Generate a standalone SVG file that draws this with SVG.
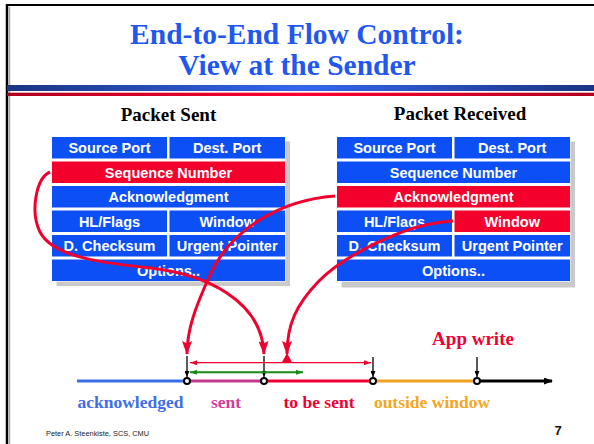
<svg xmlns="http://www.w3.org/2000/svg" width="594" height="444" viewBox="0 0 594 444">
  <style>
    .title { font-family: "Liberation Serif", "Times New Roman", serif; font-weight: bold; font-size: 29.5px; fill: #1f57f0; text-anchor: middle; }
    .head { font-family: "Liberation Serif", "Times New Roman", serif; font-weight: bold; font-size: 19px; fill: #000; text-anchor: middle; }
    .cell { fill: #0c4ff4; }
    .hot { fill: #f4002c; }
    .ct { font-family: "Liberation Sans", Arial, sans-serif; font-weight: bold; font-size: 14.5px; fill: #fff; text-anchor: middle; }
    .shadow { fill: #c9c9c9; }
    .curve { fill: none; stroke: #f0002e; stroke-width: 3; marker-end: url(#redHead); }
    .tick { stroke: #222; stroke-width: 1.5; marker-end: url(#tickHead); }
    .dot { fill: #fff; stroke: #000; stroke-width: 2; }
    .seg { stroke-width: 3; fill: none; }
    .lbl { font-family: "Liberation Serif", "Times New Roman", serif; font-weight: bold; font-size: 17.5px; text-anchor: middle; }
  </style>
  <defs>
    <linearGradient id="blueBar" x1="0" y1="0" x2="1" y2="0">
      <stop offset="0" stop-color="#1a3482"/>
      <stop offset="0.5" stop-color="#3466ee"/>
      <stop offset="1" stop-color="#1a3482"/>
    </linearGradient>
    <linearGradient id="redBar" x1="0" y1="0" x2="1" y2="0">
      <stop offset="0" stop-color="#b0001e"/>
      <stop offset="0.5" stop-color="#ff0030"/>
      <stop offset="1" stop-color="#b0001e"/>
    </linearGradient>
    <marker id="redHead" viewBox="0 0 14 10" markerUnits="userSpaceOnUse" markerWidth="14" markerHeight="10" refX="13" refY="5" orient="auto">
      <path d="M0,0 L14,5 L0,10 L2.5,5 z" fill="#f0002e"/>
    </marker>
    <marker id="tickHead" viewBox="0 0 6 5" markerUnits="userSpaceOnUse" markerWidth="6" markerHeight="5" refX="6" refY="2.5" orient="auto">
      <path d="M0,0 L6,2.5 L0,5 z" fill="#000"/>
    </marker>
    <marker id="thinRed" viewBox="0 0 7 5" markerUnits="userSpaceOnUse" markerWidth="7" markerHeight="5" refX="7" refY="2.5" orient="auto-start-reverse">
      <path d="M0,0 L7,2.5 L0,5 z" fill="#f0002e"/>
    </marker>
    <marker id="thinGreen" viewBox="0 0 7 5" markerUnits="userSpaceOnUse" markerWidth="7" markerHeight="5" refX="7" refY="2.5" orient="auto-start-reverse">
      <path d="M0,0 L7,2.5 L0,5 z" fill="#168a16"/>
    </marker>
    <marker id="axisHead" viewBox="0 0 9 7" markerUnits="userSpaceOnUse" markerWidth="9" markerHeight="7" refX="8" refY="3.5" orient="auto">
      <path d="M0,0 L9,3.5 L0,7 z" fill="#000"/>
    </marker>
  </defs>

  <rect width="594" height="444" fill="#fff"/>

  <!-- slide frame and header rules -->
  <g id="frame">
    <line x1="7" y1="4" x2="7" y2="444" stroke="#000" stroke-width="2.5"/>
    <line x1="9.5" y1="7" x2="9.5" y2="444" stroke="#a8a8a8" stroke-width="1.5"/>
    <line x1="6" y1="5" x2="594" y2="5" stroke="#000" stroke-width="2"/>
    <rect x="7" y="85" width="587" height="6" fill="url(#blueBar)"/>
    <rect x="7" y="92.7" width="587" height="3.3" fill="url(#redBar)"/>
  </g>

  <g id="title">
    <text class="title" x="297" y="44">End-to-End Flow Control:</text>
    <text class="title" x="297" y="75">View at the Sender</text>
  </g>

  <!-- TCP header of the outgoing packet -->
  <g id="packet-sent">
    <text class="head" x="168.5" y="121">Packet Sent</text>
    <rect class="shadow" x="56.5" y="141.5" width="233.5" height="144.5"/>
    <rect x="51.5" y="136.5" width="234" height="145" fill="#fff"/>
    <rect class="cell" x="52" y="137" width="115" height="21.5"/>
    <rect class="cell" x="169.5" y="137" width="115.5" height="21.5"/>
    <rect class="hot" x="52" y="161.5" width="233" height="21.5"/>
    <rect class="cell" x="52" y="186" width="233" height="21.5"/>
    <rect class="cell" x="52" y="210.5" width="115" height="21.5"/>
    <rect class="cell" x="169.5" y="210.5" width="115.5" height="21.5"/>
    <rect class="cell" x="52" y="235" width="115" height="21.5"/>
    <rect class="cell" x="169.5" y="235" width="115.5" height="21.5"/>
    <rect class="cell" x="52" y="259.5" width="233" height="21.5"/>
    <text class="ct" x="109.5" y="153">Source Port</text>
    <text class="ct" x="227.2" y="153">Dest. Port</text>
    <text class="ct" x="168.5" y="177.5">Sequence Number</text>
    <text class="ct" x="168.5" y="202">Acknowledgment</text>
    <text class="ct" x="109.5" y="226.5">HL/Flags</text>
    <text class="ct" x="227.2" y="226.5">Window</text>
    <text class="ct" x="109.5" y="251">D. Checksum</text>
    <text class="ct" x="227.2" y="251">Urgent Pointer</text>
    <text class="ct" x="168.5" y="275.5">Options..</text>
  </g>

  <!-- TCP header of the incoming packet -->
  <g id="packet-received">
    <text class="head" x="460" y="120">Packet Received</text>
    <rect class="shadow" x="341.5" y="141.5" width="233.5" height="146"/>
    <rect x="336.5" y="136.5" width="234" height="145" fill="#fff"/>
    <rect class="cell" x="337" y="137" width="115" height="21.5"/>
    <rect class="cell" x="454.5" y="137" width="115.5" height="21.5"/>
    <rect class="cell" x="337" y="161.5" width="233" height="21.5"/>
    <rect class="hot" x="337" y="186" width="233" height="21.5"/>
    <rect class="cell" x="337" y="210.5" width="115" height="21.5"/>
    <rect class="hot" x="454.5" y="210.5" width="115.5" height="21.5"/>
    <rect class="cell" x="337" y="235" width="115" height="21.5"/>
    <rect class="cell" x="454.5" y="235" width="115.5" height="21.5"/>
    <rect class="cell" x="337" y="259.5" width="233" height="21.5"/>
    <text class="ct" x="394.5" y="153">Source Port</text>
    <text class="ct" x="512.2" y="153">Dest. Port</text>
    <text class="ct" x="453.5" y="177.5">Sequence Number</text>
    <text class="ct" x="453.5" y="202">Acknowledgment</text>
    <text class="ct" x="394.5" y="226.5">HL/Flags</text>
    <text class="ct" x="512.2" y="226.5">Window</text>
    <text class="ct" x="394.5" y="251">D. Checksum</text>
    <text class="ct" x="512.2" y="251">Urgent Pointer</text>
    <text class="ct" x="453.5" y="275.5">Options..</text>
  </g>

  <!-- sequence-space timeline -->
  <g id="timeline">
    <line class="seg" x1="77" y1="381" x2="187" y2="381" stroke="#3a6fe6"/>
    <line class="seg" x1="187" y1="381" x2="264" y2="381" stroke="#c43a8e"/>
    <line class="seg" x1="264" y1="381" x2="373" y2="381" stroke="#ec0034"/>
    <line class="seg" x1="373" y1="381" x2="477" y2="381" stroke="#f0a020"/>
    <line class="seg" x1="477" y1="381" x2="552" y2="381" stroke="#000" marker-end="url(#axisHead)"/>
    <circle class="dot" cx="187" cy="381" r="3"/>
    <circle class="dot" cx="264" cy="381" r="3"/>
    <circle class="dot" cx="373" cy="381" r="3"/>
    <circle class="dot" cx="477" cy="381" r="3"/>
    <text class="lbl" x="130.5" y="408" fill="#3d6fe8">acknowledged</text>
    <text class="lbl" x="226" y="408" fill="#d0409a">sent</text>
    <text class="lbl" x="319" y="408" fill="#ee0033">to be sent</text>
    <text class="lbl" x="432" y="408" fill="#f5a623">outside window</text>
    <text class="lbl" x="473" y="345" fill="#f0003a" style="font-size:19px">App write</text>
  </g>

  <g id="connectors">
    <!-- sequence number -> end of sent data -->
    <path class="curve" d="M50,172 C36,178 30,212 40,232 C52,255 92,262 150,268 C205,274 262,300 264,354"/>
    <!-- acknowledgment -> start of window -->
    <path class="curve" d="M335,196 C280,200 230,230 210,275 C195,308 187,330 187,354"/>
    <!-- advertised window -> window size marker -->
    <path class="curve" d="M453,221 C405,223 342,257 318,282 C296,305 287,325 287,354"/>
    <polygon points="287,353 281.5,363 292.5,363" fill="#f0002e"/>
    <!-- boundary ticks -->
    <line class="tick" x1="187" y1="356" x2="187" y2="377"/>
    <line class="tick" x1="264" y1="356" x2="264" y2="377"/>
    <line class="tick" x1="373" y1="357" x2="373" y2="377"/>
    <line class="tick" x1="477" y1="357" x2="477" y2="377"/>
    <!-- window span and data in flight -->
    <line x1="190" y1="362.7" x2="371" y2="362.7" stroke="#f0002e" stroke-width="1.3" marker-start="url(#thinRed)" marker-end="url(#thinRed)"/>
    <line x1="190" y1="372.3" x2="303" y2="372.3" stroke="#168a16" stroke-width="2" marker-start="url(#thinGreen)" marker-end="url(#thinGreen)"/>
  </g>

  <g id="footer">
    <text x="46" y="436" style="font-family:'Liberation Sans',Arial,sans-serif;font-size:7.4px" fill="#222">Peter A. Steenkiste, SCS, CMU</text>
    <text x="558" y="435" style="font-family:'Liberation Sans',Arial,sans-serif;font-size:13px;font-weight:bold" fill="#111" text-anchor="middle">7</text>
  </g>
</svg>
